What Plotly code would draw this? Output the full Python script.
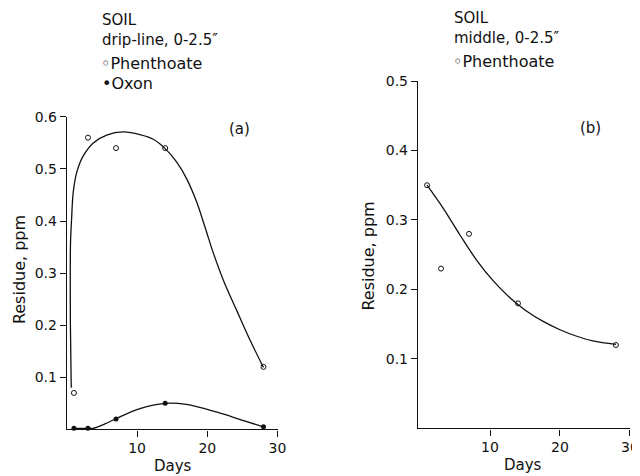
import plotly.graph_objects as go

# ---- data ----
days = [1, 3, 7, 14, 28]
a_phenthoate = [0.07, 0.56, 0.54, 0.54, 0.12]
a_oxon = [0.002, 0.002, 0.02, 0.05, 0.005]
b_phenthoate = [0.35, 0.23, 0.28, 0.18, 0.12]

# hand-drawn fitted curves
a_phen_curve_x = [0.62, 0.5, 0.48, 0.52, 0.67, 0.9, 1.39, 2.33, 3.76, 5.67, 8.04, 10.4, 12.3, 14,
                  15.7, 17.1, 18.5, 19.7, 20.9, 22.3, 24.2, 26.1, 28]
a_phen_curve_y = [0.08, 0.2, 0.3, 0.36, 0.404, 0.455, 0.493, 0.525, 0.55, 0.565, 0.571, 0.566, 0.557, 0.539,
                  0.512, 0.48, 0.436, 0.387, 0.337, 0.286, 0.228, 0.171, 0.119]
a_oxon_curve_x = [1, 3, 3.7, 5.5, 6.9, 10.4, 14, 17, 21.4, 24.7, 28]
a_oxon_curve_y = [0.002, 0.002, 0.002, 0.011, 0.02, 0.04, 0.05, 0.048, 0.033, 0.019, 0.005]
b_phen_curve_x = [1, 3.36, 5.73, 8.1, 10.5, 12.85, 15.2, 17.6, 20, 22.3, 24.7, 28]
b_phen_curve_y = [0.35, 0.316, 0.278, 0.242, 0.212, 0.188, 0.169, 0.154, 0.142, 0.133, 0.126, 0.121]

a_yticks = [0.1, 0.2, 0.3, 0.4, 0.5, 0.6]
b_yticks = [0.1, 0.2, 0.3, 0.4, 0.5]
xticks = [10, 20, 30]

FONT = "DejaVu Sans"
BLACK = "#111111"

# mapping from target screenshot pixels to figure pixels (page offset/scale)
SCALE, OFFX, OFFY = 0.9877, 7.0, 13.7
W, H = 640, 476

def dx(px):
    return ((px - OFFX) / SCALE) / W

def dy(py):
    return 1 - ((py - OFFY) / SCALE) / H

fig = go.Figure()

line_style = dict(color=BLACK, width=1.3, shape="spline", smoothing=1.0)
open_marker = dict(symbol="circle-open", size=5, color=BLACK, line=dict(width=1, color=BLACK))
filled_marker = dict(symbol="circle", size=5, color=BLACK)

fig.add_trace(go.Scatter(x=a_phen_curve_x, y=a_phen_curve_y, mode="lines", line=line_style,
                         xaxis="x", yaxis="y", hoverinfo="skip", cliponaxis=False))
fig.add_trace(go.Scatter(x=a_oxon_curve_x, y=a_oxon_curve_y, mode="lines", line=line_style,
                         xaxis="x", yaxis="y", hoverinfo="skip", cliponaxis=False))
fig.add_trace(go.Scatter(x=days, y=a_phenthoate, mode="markers", marker=open_marker,
                         name="Phenthoate", xaxis="x", yaxis="y", cliponaxis=False))
fig.add_trace(go.Scatter(x=days, y=a_oxon, mode="markers", marker=filled_marker,
                         name="Oxon", xaxis="x", yaxis="y", cliponaxis=False))

fig.add_trace(go.Scatter(x=b_phen_curve_x, y=b_phen_curve_y, mode="lines", line=line_style,
                         xaxis="x2", yaxis="y2", hoverinfo="skip", cliponaxis=False))
fig.add_trace(go.Scatter(x=days, y=b_phenthoate, mode="markers", marker=open_marker,
                         name="Phenthoate", xaxis="x2", yaxis="y2", cliponaxis=False))

axis_common = dict(showline=True, linecolor=BLACK, linewidth=1.3, ticks="outside",
                   ticklen=6, tickwidth=1.2, tickcolor=BLACK, showgrid=False, zeroline=False,
                   tickfont=dict(family=FONT, size=14, color=BLACK), fixedrange=True)

fig.update_layout(
    width=W, height=H,
    margin=dict(l=0, r=0, t=0, b=0),
    paper_bgcolor="white", plot_bgcolor="white",
    showlegend=False,
    xaxis=dict(domain=[dx(66), dx(277)], range=[0, 30], anchor="y",
               tickvals=xticks, ticktext=[str(v) for v in xticks], **axis_common),
    yaxis=dict(domain=[dy(429), dy(115)], range=[0, 0.6], anchor="x",
               tickvals=a_yticks, ticktext=[f"{v:.1f}" for v in a_yticks], **axis_common),
    xaxis2=dict(domain=[dx(417.7), dx(630)], range=[-0.3, 30], anchor="y2",
                tickvals=xticks, ticktext=[str(v) for v in xticks], **axis_common),
    yaxis2=dict(domain=[dy(428), dy(79)], range=[0, 0.5], anchor="x2",
                tickvals=b_yticks, ticktext=[f"{v:.1f}" for v in b_yticks], **axis_common),
)

def ann(text, px, py, size=14, xanchor="left", angle=0):
    fig.add_annotation(text=text, x=dx(px), y=dy(py), xref="paper", yref="paper",
                       xanchor=xanchor, yanchor="middle", showarrow=False, textangle=angle,
                       align="left", font=dict(family=FONT, size=size, color=BLACK))

# panel (a) headers
ann("SOIL<br>drip-line, 0-2.5\u2033", 99, 28, 15)
ann("\u25e6Phenthoate", 98, 61, 16)
ann("\u2022Oxon", 99, 82, 16)
ann("(a)", 239, 127, 15, xanchor="center")
# panel (b) headers
ann("SOIL<br>middle, 0-2.5\u2033", 452, 25.5, 15)
ann("\u25e6Phenthoate", 451, 59, 16)
ann("(b)", 591, 126, 15, xanchor="center")

# axis titles
ann("Residue, ppm", 18, 268, 16, xanchor="center", angle=-90)
ann("Residue, ppm", 368, 255, 16, xanchor="center", angle=-90)
ann("Days", 172, 466, 15, xanchor="center")
ann("Days", 523, 465, 15, xanchor="center")

fig.write_html("out.html")
